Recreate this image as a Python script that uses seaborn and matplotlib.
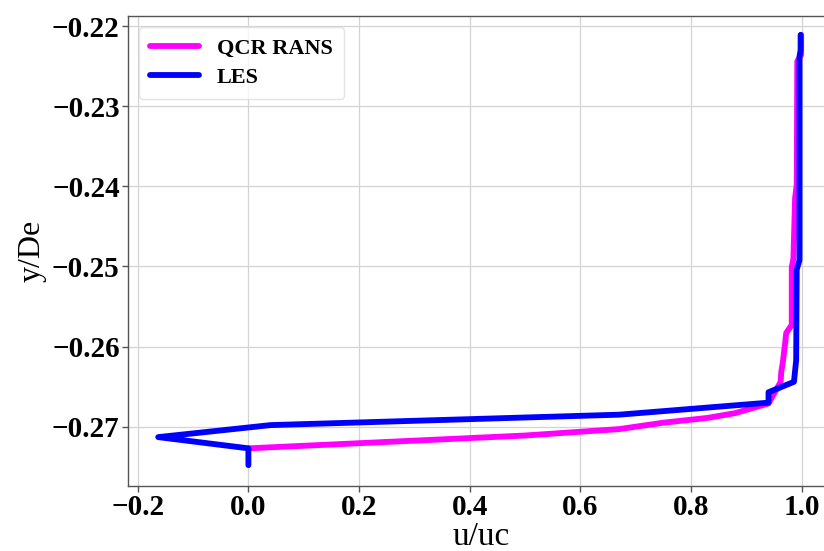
import matplotlib
matplotlib.use("Agg")
import matplotlib.pyplot as plt
import seaborn as sns
import pandas as pd

# QCR RANS profile
x_rans = [0.999, 0.999, 0.992, 0.991, 0.988, 0.985, 0.982, 0.982, 0.972, 0.970,
          0.966, 0.963, 0.962, 0.940, 0.880, 0.830, 0.750, 0.670, 0.500, 0.000]
y_rans = [-0.2211, -0.2236, -0.2244, -0.2398, -0.2415, -0.2490, -0.2501, -0.2573, -0.2583, -0.2596,
          -0.2619, -0.2632, -0.2644, -0.2671, -0.2683, -0.2689, -0.2695, -0.2703, -0.2711, -0.2727]

# LES profile
x_les = [0.998, 0.998, 0.996, 0.996, 0.991, 0.990, 0.986, 0.940, 0.940, 0.670,
         0.040, -0.163, 0.000, 0.000]
y_les = [-0.2211, -0.2230, -0.2238, -0.2492, -0.2504, -0.2617, -0.2644, -0.2657, -0.2670, -0.2685,
         -0.2698, -0.2713, -0.2727, -0.2748]

labels = ["QCR RANS", "LES"]
colors = ["#ff00ff", "#0000ff"]
x_ticks = [-0.2, 0.0, 0.2, 0.4, 0.6, 0.8, 1.0]
y_ticks = [-0.27, -0.26, -0.25, -0.24, -0.23, -0.22]

sns.set_theme(style="whitegrid")
plt.rcParams["font.family"] = ["Liberation Serif", "DejaVu Serif"]
plt.rcParams["axes.edgecolor"] = "#555555"
plt.rcParams["axes.linewidth"] = 1.0
plt.rcParams["text.color"] = "black"
plt.rcParams["axes.labelcolor"] = "black"
plt.rcParams["xtick.color"] = "black"
plt.rcParams["ytick.color"] = "black"

fig = plt.figure(figsize=(8.24, 5.51), dpi=100)
ax = fig.add_axes([128 / 824, 1 - 486 / 551, 705.8 / 824, (486 - 15.7) / 551])

df_r = pd.DataFrame({"x": x_rans, "y": y_rans})
df_l = pd.DataFrame({"x": x_les, "y": y_les})
sns.lineplot(data=df_r, x="x", y="y", sort=False, estimator=None, ax=ax,
             color=colors[0], lw=4.2, label=labels[0])
sns.lineplot(data=df_l, x="x", y="y", sort=False, estimator=None, ax=ax,
             color=colors[1], lw=4.2, label=labels[1])

ax.set_xlim(-0.2176, 1.058)
ax.set_ylim(-0.27740, -0.21871)
ax.set_xticks(x_ticks)
ax.set_yticks(y_ticks)
ax.set_xticklabels([f"{v:.1f}".replace("-", "\u2212") for v in x_ticks])
ax.set_yticklabels([f"{v:.2f}".replace("-", "\u2212") for v in y_ticks])
ax.tick_params(axis="both", which="major", labelsize=21, length=4, width=1,
               color="#555555", labelcolor="black", direction="out",
               bottom=True, left=True, pad=2)
for lab in ax.get_xticklabels() + ax.get_yticklabels():
    lab.set_fontweight("bold")
ax.grid(True, color="#d3d3d3", lw=0.9)
for s in ax.spines.values():
    s.set_color("#555555")

ax.set_xlabel("u/uc", fontsize=24, labelpad=0, color="black")
ax.set_ylabel("y/De", fontsize=23, labelpad=4, color="black")

leg = ax.legend(loc="upper left", prop={"weight": "bold", "size": 16},
                handlelength=2.2, frameon=True, borderpad=0.5, labelspacing=0.4,
                bbox_to_anchor=(0.0, 1.0))
leg.get_frame().set_edgecolor("#dddddd")
for t in leg.get_texts():
    t.set_color("black")
for h in leg.get_lines():
    h.set_linewidth(4.2)

fig.savefig("out.png", dpi=100)
